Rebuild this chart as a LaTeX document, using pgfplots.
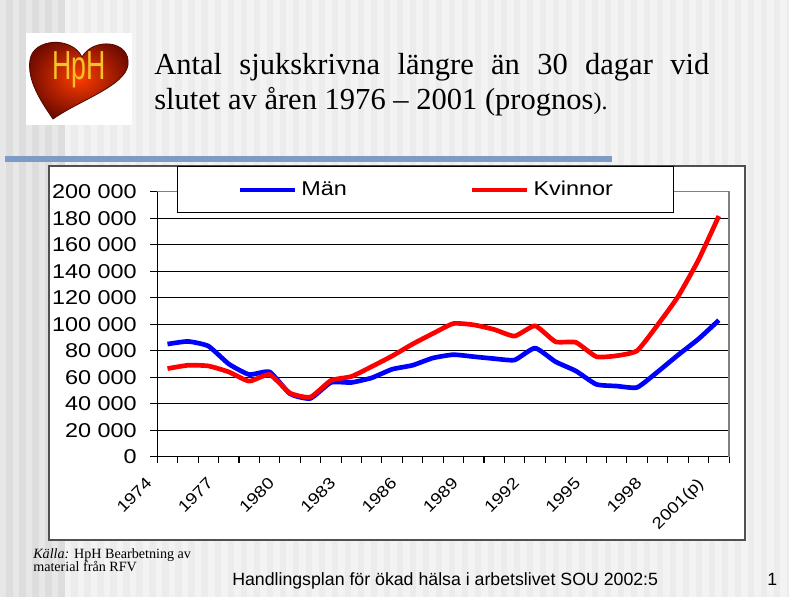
\documentclass[border=0pt]{standalone}
\usepackage{pgfplots}
\pgfplotsset{compat=1.18}
\usepackage{graphicx}
\usepackage{fontspec}
\setmainfont{Liberation Serif}
\newfontfamily\chartfont[FakeStretch=1.17]{Liberation Sans}
\newfontfamily\sansfont{Liberation Sans}
\definecolor{bgbase}{RGB}{243,243,243}
\definecolor{bgstripe}{RGB}{236,236,236}
\definecolor{bgleftA}{RGB}{231,231,231}
\definecolor{bgleftB}{RGB}{221,221,221}
\definecolor{divider}{RGB}{125,155,197}
\definecolor{boxline}{RGB}{80,80,80}
\definecolor{heartin}{RGB}{255,60,0}
\definecolor{heartout}{RGB}{115,12,0}
\definecolor{logotext}{RGB}{245,195,40}
\definecolor{mblue}{RGB}{0,0,255}
\definecolor{mred}{RGB}{255,0,0}

\pgfplotstableread{
i  man    kvinnor
0  85000  66500
1  87000  69000
2  83500  68500
3  70000  64000
4  62000  57000
5  64000  62000
6  47500  48000
7  44000  45000
8  56000  57500
9  56000  60500
10 59500  68000
11 66000  76000
12 69000  85000
13 74500  93000
14 77000  100500
15 75500  99500
16 74000  96000
17 73000  91000
18 82000  98800
19 71700  86800
20 64700  86300
21 54600  75500
22 53300  76200
23 52300  80000
24 64000  99400
25 76700  120800
26 88800  148400
27 103000 181600
}\datatable

% P(x,y): pixel coordinates of the 789x597 slide, from its top-left corner;
% the plot area's lower-left corner (157.3, 456.7) is the picture origin
\def\P(#1,#2){({((#1)-157.3)*0.75pt},{(456.7-(#2))*0.75pt})}

\begin{document}
\begin{tikzpicture}
\path[use as bounding box] \P(0,0) rectangle \P(789,597);
% slide background
\fill[bgbase] \P(0,0) rectangle \P(789,597);
\foreach \i in {5,...,60} {\fill[bgstripe] \P(\i*13+6.5,0) rectangle \P(\i*13+13,597);}
\fill[bgleftA] \P(0,0) rectangle \P(65,597);
\foreach \i in {0,...,4} {\fill[bgleftB] \P(\i*13+6.5,0) rectangle \P(\i*13+13,597);}
% logo
\fill[white] \P(26,32.7) rectangle \P(132,124.7);
\shadedraw[inner color=heartin, outer color=heartout, draw=heartout!70!black, line width=0.6pt]
  \P(53,119) .. controls \P(40,100) and \P(27,80) .. \P(30,60)
  .. controls \P(33,38) and \P(72,36) .. \P(82,57)
  .. controls \P(93,37) and \P(131,40) .. \P(128,65)
  .. controls \P(125,86) and \P(80,100) .. cycle;
\node[text=logotext, font=\sansfont\fontsize{16}{16}\selectfont, inner sep=0pt] at \P(79,70)
  {\scalebox{1.25}[1.9]{HpH}};
% title
\node[anchor=base west, inner sep=0pt, font=\fontsize{22.9}{24}\selectfont] at \P(154,75)
  {\makebox[416.25pt][s]{Antal sjukskrivna längre än 30 dagar vid}};
\node[anchor=base west, inner sep=0pt, font=\fontsize{22.9}{24}\selectfont] at \P(154,110)
  {slutet av åren 1976 – 2001 (prognos{\fontsize{18}{18}\selectfont).}};
% divider
\fill[divider] \P(5,156) rectangle \P(612,162);
% chart box
\draw[boxline, line width=1.4pt, fill=white] \P(49.3,166) rectangle \P(745,540);
\begin{axis}[
  scale only axis, width=428.8pt, height=198.75pt,
  xmin=-0.5, xmax=27.5, ymin=0, ymax=200000,
  axis lines=left, axis line style={-, black, line width=0.9pt},
  ytick={0,20000,...,200000},
  yticklabels={0,20 000,40 000,60 000,80 000,100 000,120 000,140 000,160 000,180 000,200 000},
  scaled y ticks=false,
  ymajorgrids, grid style={black, line width=0.8pt},
  xtick={0,3,...,27},
  xticklabels={1974,1977,1980,1983,1986,1989,1992,1995,1998,2001(p)},
  minor xtick={-0.5,0.5,...,27.5},
  tick align=outside,
  major tick length=5.25pt, minor tick length=4.5pt,
  major x tick style={draw=none},
  tick style={black, line width=0.8pt},
  yticklabel style={font=\chartfont\fontsize{15}{15}\selectfont, inner sep=0pt, xshift=-10pt},
  xticklabel style={font=\chartfont\fontsize{12}{12}\selectfont,
    xshift=-17pt, yshift=-9.25pt, rotate=45, anchor=north east, inner sep=0pt},
  legend style={at={(axis description cs:0.0341,1.097)}, anchor=north west,
    draw=black, line width=0.9pt, fill=white, inner xsep=45.25pt, inner ysep=11pt,
    legend columns=2, font=\chartfont\fontsize{15}{15}\selectfont,
    nodes={inner sep=0pt},
    /tikz/every odd column/.append style={column sep=3.5pt},
    /tikz/every even column/.append style={column sep=92.25pt}},
  legend image code/.code={\draw[#1, line width=3pt] (0pt,0pt) -- (41.25pt,0pt);},
  clip=false,
]
\addplot[mblue, line width=3.5pt, smooth, tension=0.3, line join=round] table[x=i, y=man] {\datatable};
\addlegendentry{Män}
\addplot[mred, line width=3.5pt, smooth, tension=0.3, line join=round] table[x=i, y=kvinnor] {\datatable};
\addlegendentry{Kvinnor}
\draw[gray, line width=0.9pt] (rel axis cs:0,1) -- (rel axis cs:1,1) -- (rel axis cs:1,0);
\end{axis}
% footer
\node[anchor=base west, inner sep=0pt, font=\fontsize{10.6}{12}\selectfont] at \P(33,558.3)
  {\textit{Källa:} HpH Bearbetning av};
\node[anchor=base west, inner sep=0pt, font=\fontsize{10.6}{12}\selectfont] at \P(33,571.7)
  {material från RFV};
\node[anchor=base west, inner sep=0pt, font=\sansfont\fontsize{13.3}{14}\selectfont] at \P(232,585)
  {Handlingsplan för ökad hälsa i arbetslivet SOU 2002:5};
\node[anchor=base west, inner sep=0pt, font=\sansfont\fontsize{13.3}{14}\selectfont] at \P(767,585) {1};
\end{tikzpicture}
\end{document}
